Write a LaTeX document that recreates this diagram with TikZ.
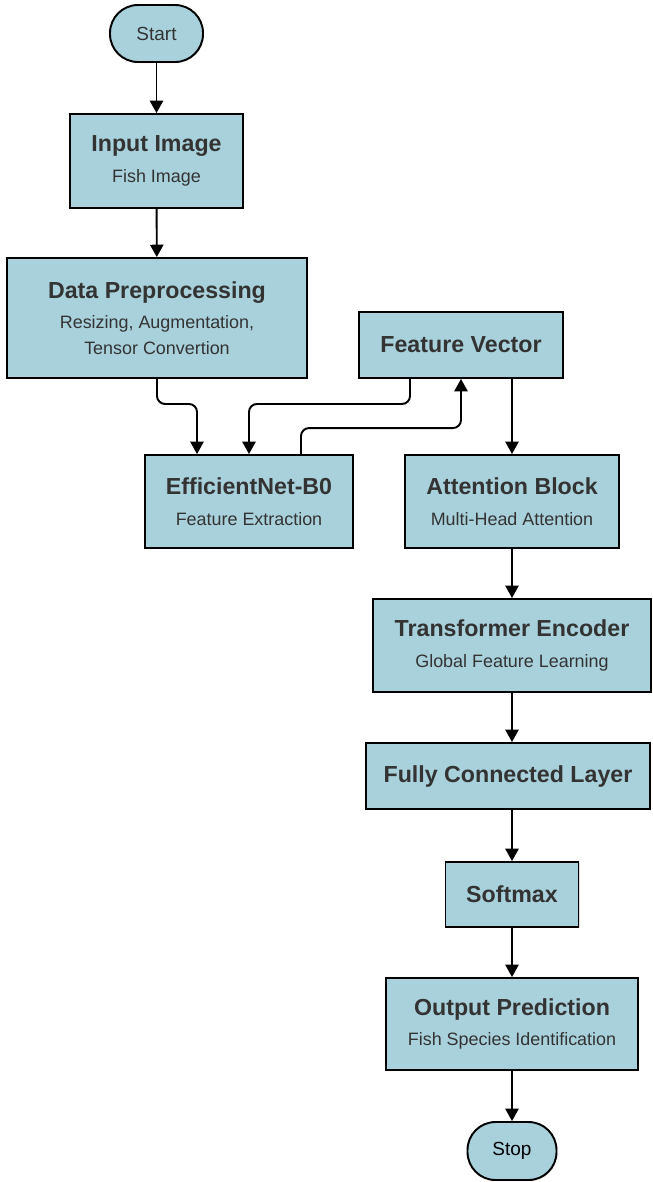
\documentclass[tikz,border=0pt]{standalone}
\usepackage{fontspec}
\setmainfont{Liberation Sans}
\usepackage{tikz}
\usetikzlibrary{arrows.meta}
\usetikzlibrary{shadows}

\definecolor{boxfill}{HTML}{A8D1DC}
\definecolor{boxtext}{HTML}{333333}

\newcommand{\boxtitle}[1]{{\bfseries\fontsize{13.2}{15}\selectfont #1}}
\newcommand{\boxsub}[1]{{\fontsize{10.2}{14.8}\selectfont #1}}

\tikzset{
  block/.style={draw, line width=1.1pt, fill=boxfill, text=boxtext, align=center,
    inner sep=2pt, font=\fontsize{10.2}{14.8}\selectfont,
    drop shadow={opacity=0.25, shadow xshift=0.6pt, shadow yshift=-0.6pt}},
  term/.style={block, rounded corners=0.56cm, minimum width=1.86cm, minimum height=1.14cm,
    font=\fontsize{10.8}{12}\selectfont},
  arr/.style={-{Triangle[length=7pt,width=7.5pt]}, line width=1.1pt, rounded corners=0.16cm},
}

\begin{document}
\begin{tikzpicture}
  \useasboundingbox (0,0) rectangle (13.04,-23.64);

  \node[term] (start) at (3.13,-0.67) {Start};
  \node[block, minimum width=3.46cm, minimum height=1.88cm] (input) at (3.13,-3.22)
    {\boxtitle{Input Image}\\[2.5pt]\boxsub{Fish Image}};
  \node[block, minimum width=6.0cm, minimum height=2.4cm] (prep) at (3.14,-6.36)
    {\boxtitle{Data Preprocessing}\\[2.5pt]\boxsub{Resizing, Augmentation,}\\\boxsub{Tensor Convertion}};
  \node[block, minimum width=4.08cm, minimum height=1.32cm] (fvec) at (9.22,-6.90)
    {\boxtitle{Feature Vector}};
  \node[block, minimum width=4.16cm, minimum height=1.86cm] (effnet) at (4.98,-10.03)
    {\boxtitle{EfficientNet-B0}\\[2.5pt]\boxsub{Feature Extraction}};
  \node[block, minimum width=4.28cm, minimum height=1.86cm] (attn) at (10.24,-10.03)
    {\boxtitle{Attention Block}\\[2.5pt]\boxsub{Multi-Head Attention}};
  \node[block, minimum width=5.56cm, minimum height=1.86cm] (trans) at (10.24,-12.91)
    {\boxtitle{Transformer Encoder}\\[2.5pt]\boxsub{Global Feature Learning}};
  \node[block, minimum width=5.68cm, minimum height=1.32cm] (fcl) at (10.16,-15.52)
    {\boxtitle{Fully Connected Layer}};
  \node[block, minimum width=2.66cm, minimum height=1.30cm] (soft) at (10.24,-17.89)
    {\boxtitle{Softmax}};
  \node[block, minimum width=5.04cm, minimum height=1.84cm] (output) at (10.24,-20.48)
    {\boxtitle{Output Prediction}\\[2.5pt]\boxsub{Fish Species Identification}};
  \node[term, text=black, minimum width=1.78cm, minimum height=1.16cm] (stop) at (10.24,-23.02) {Stop};

  \draw[arr] (start) -- (input);
  \draw[arr] (input) -- (prep);
  \draw[arr] (prep.south) -- ++(0,-0.5) -| ([xshift=-1.04cm]effnet.north);
  \draw[arr] ([xshift=-1.02cm]fvec.south) -- ++(0,-0.5) -| (effnet.north);
  \draw[arr] ([xshift=1.04cm]effnet.north) -- ++(0,0.52) -| (fvec.south);
  \draw[arr] (fvec.south -| attn.north) -- (attn);
  \draw[arr] (attn) -- (trans);
  \draw[arr] (trans.south) -- (fcl.north -| trans.south);
  \draw[arr] (fcl.south -| soft.north) -- (soft);
  \draw[arr] (soft) -- (output);
  \draw[arr] (output) -- (stop);
\end{tikzpicture}
\end{document}
